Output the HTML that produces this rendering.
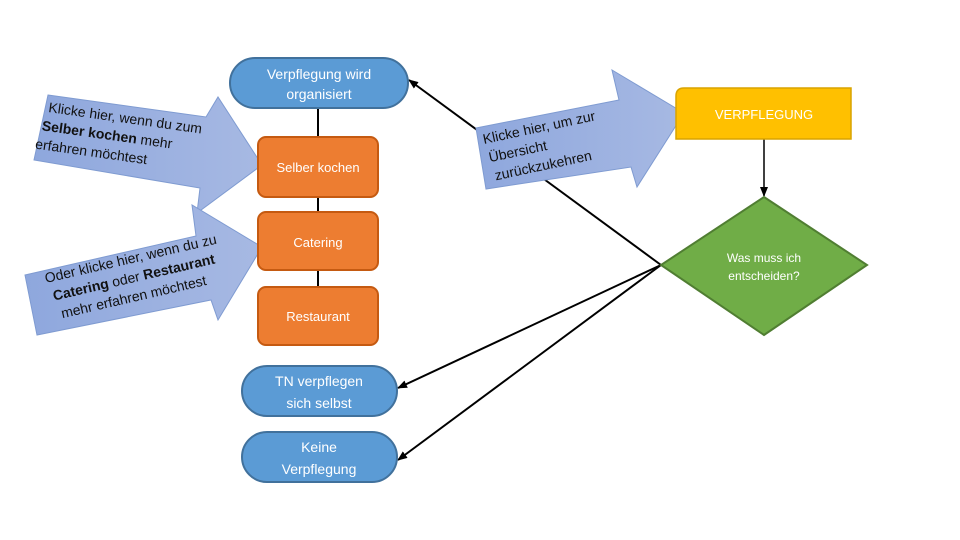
<!DOCTYPE html>
<html><head><meta charset="utf-8"><style>
html,body{margin:0;padding:0;background:#fff;width:960px;height:540px;overflow:hidden}
svg text{font-family:"Liberation Sans",sans-serif}
</style></head><body>
<svg width="960" height="540" viewBox="0 0 960 540" xmlns="http://www.w3.org/2000/svg">
<defs>
<linearGradient id="g" x1="0" y1="0" x2="1" y2="0">
<stop offset="0" stop-color="#8ea7dd"/><stop offset="1" stop-color="#a7b9e3"/>
</linearGradient>
<marker id="ah" markerWidth="10" markerHeight="10" refX="9" refY="5" orient="auto" markerUnits="userSpaceOnUse">
<path d="M0,1 L10,5 L0,9 z" fill="#000"/>
</marker>
</defs>
<!-- vertical connectors -->
<line x1="318" y1="108" x2="318" y2="137" stroke="#000" stroke-width="2"/>
<line x1="318" y1="197" x2="318" y2="212" stroke="#000" stroke-width="2"/>
<line x1="318" y1="270" x2="318" y2="287" stroke="#000" stroke-width="2"/>
<!-- diagonal connectors -->
<line x1="661" y1="265" x2="409" y2="80" stroke="#000" stroke-width="2" marker-end="url(#ah)"/>
<line x1="661" y1="265" x2="398" y2="388" stroke="#000" stroke-width="2" marker-end="url(#ah)"/>
<line x1="661" y1="265" x2="398" y2="460" stroke="#000" stroke-width="2" marker-end="url(#ah)"/>
<line x1="764" y1="139" x2="764" y2="196" stroke="#000" stroke-width="1.5" marker-end="url(#ah)"/>

<!-- big arrows -->
<polygon points="48,95 206,117 218,97 262,165 197,213 200,188 34,160" fill="url(#g)" stroke="#7f9bd1" stroke-width="1"/>
<polygon points="25,275 196,236 192,205 262,247 218,320 211,300 37,335" fill="url(#g)" stroke="#7f9bd1" stroke-width="1"/>
<polygon points="476,128 619,100 612,70 684,113 637,187 631,167 486,189" fill="url(#g)" stroke="#7f9bd1" stroke-width="1"/>

<g font-size="14" fill="#111">
<g transform="translate(48,112) rotate(8)">
<text x="0" y="0">Klicke hier, wenn du zum</text>
<text x="-4" y="19"><tspan font-weight="bold">Selber kochen</tspan> mehr</text>
<text x="-8" y="38">erfahren möchtest</text>
</g>
<g transform="translate(46,283) rotate(-13)">
<text x="0" y="0">Oder klicke hier, wenn du zu</text>
<text x="4" y="19"><tspan font-weight="bold">Catering</tspan> oder <tspan font-weight="bold">Restaurant</tspan></text>
<text x="8" y="38">mehr erfahren möchtest</text>
</g>
<g transform="translate(484,144) rotate(-12)">
<text x="0" y="0">Klicke hier, um zur</text>
<text x="2" y="19">Übersicht</text>
<text x="4" y="38">zurückzukehren</text>
</g>
</g>

<!-- nodes -->
<rect x="230" y="58" width="178" height="50" rx="25" fill="#5b9bd5" stroke="#41719c" stroke-width="2"/>
<text x="319" y="79" font-size="14" fill="#fff" text-anchor="middle">Verpflegung wird</text>
<text x="319" y="99" font-size="14" fill="#fff" text-anchor="middle">organisiert</text>

<rect x="258" y="137" width="120" height="60" rx="8" fill="#ed7d31" stroke="#c55a11" stroke-width="2"/>
<text x="318" y="172" font-size="13" fill="#fff" text-anchor="middle">Selber kochen</text>
<rect x="258" y="212" width="120" height="58" rx="8" fill="#ed7d31" stroke="#c55a11" stroke-width="2"/>
<text x="318" y="247" font-size="13" fill="#fff" text-anchor="middle">Catering</text>
<rect x="258" y="287" width="120" height="58" rx="8" fill="#ed7d31" stroke="#c55a11" stroke-width="2"/>
<text x="318" y="321" font-size="13" fill="#fff" text-anchor="middle">Restaurant</text>

<rect x="242" y="366" width="155" height="50" rx="25" fill="#5b9bd5" stroke="#41719c" stroke-width="2"/>
<text x="319" y="386" font-size="14" fill="#fff" text-anchor="middle">TN verpflegen</text>
<text x="319" y="408" font-size="14" fill="#fff" text-anchor="middle">sich selbst</text>
<rect x="242" y="432" width="155" height="50" rx="25" fill="#5b9bd5" stroke="#41719c" stroke-width="2"/>
<text x="319" y="452" font-size="14" fill="#fff" text-anchor="middle">Keine</text>
<text x="319" y="474" font-size="14" fill="#fff" text-anchor="middle">Verpflegung</text>

<path d="M676,139 L676,96 Q676,88 684,88 L851,88 L851,139 Z" fill="#ffc000" stroke="#d9a300" stroke-width="1.5"/>
<text x="764" y="119" font-size="13" fill="#fff" text-anchor="middle">VERPFLEGUNG</text>

<polygon points="764,197 867,265 764,335 661,265" fill="#70ad47" stroke="#507e32" stroke-width="2"/>
<text x="764" y="262" font-size="12" fill="#fff" text-anchor="middle">Was muss ich</text>
<text x="764" y="280" font-size="12" fill="#fff" text-anchor="middle">entscheiden?</text>
</svg>
</body></html>
